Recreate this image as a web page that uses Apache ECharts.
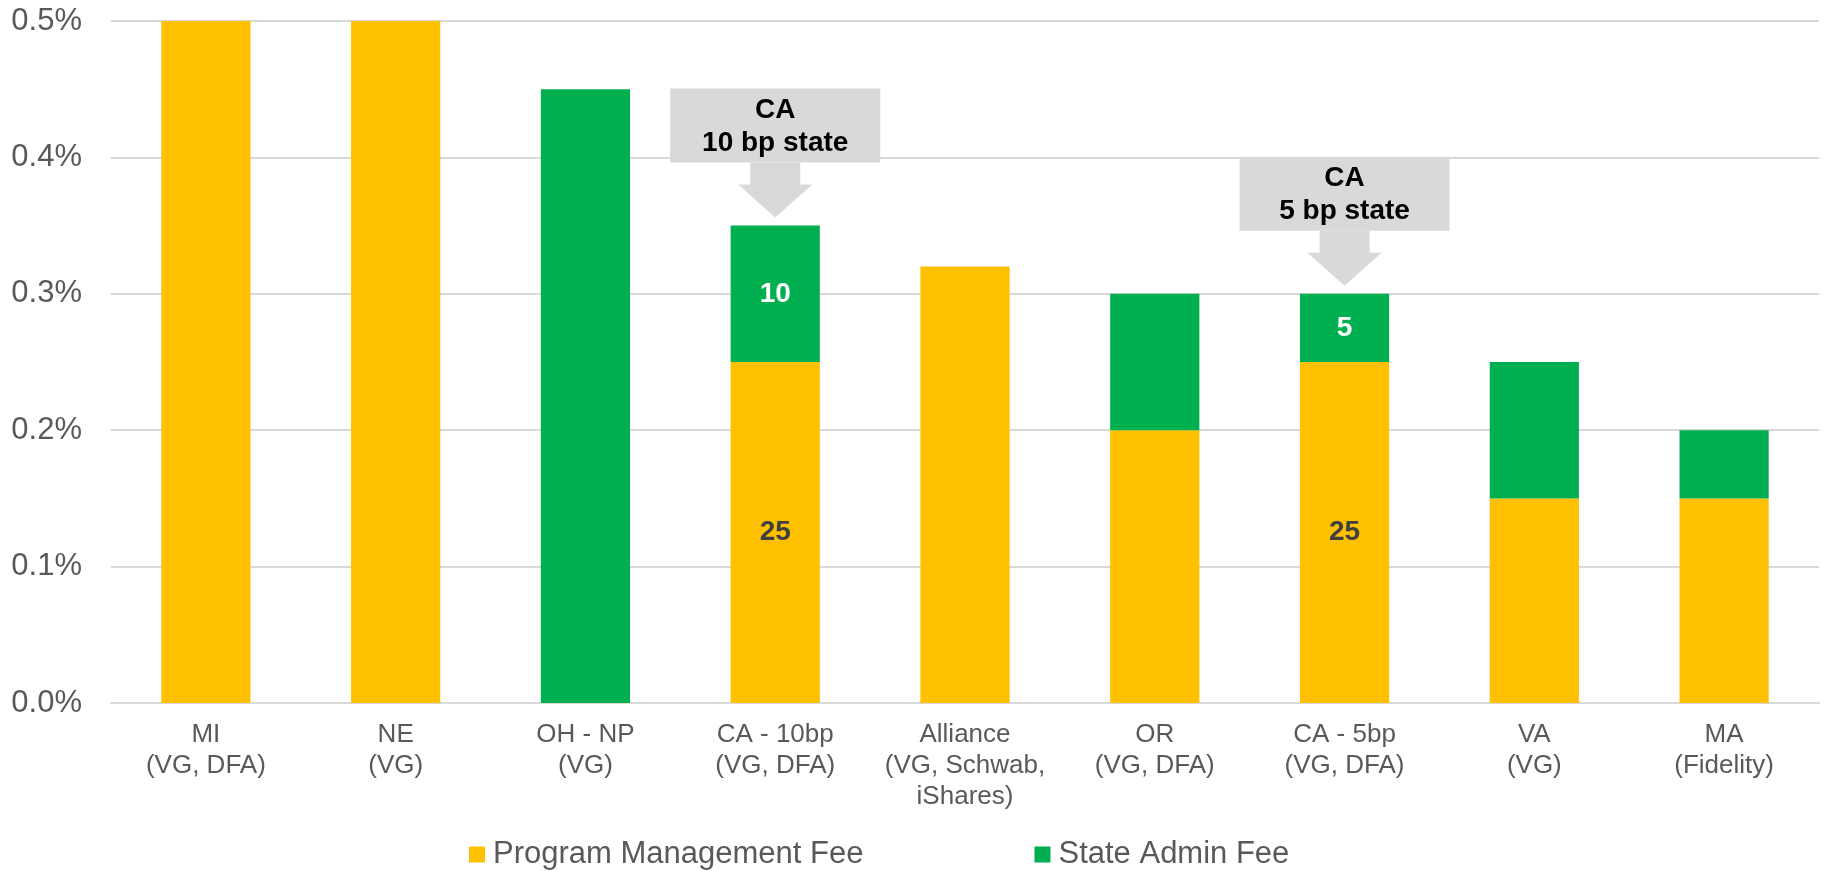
<!DOCTYPE html>
<html>
<head>
<meta charset="utf-8">
<script src="https://cdn.jsdelivr.net/npm/echarts@6/dist/echarts.min.js"></script>
<style>
  html, body { margin: 0; padding: 0; background: #fff; }
  #main { width: 1827px; height: 871px; }
</style>
</head>
<body>
<div id="main"></div>
<script>
// 数据
const categories = [
  'MI\n(VG, DFA)', 'NE\n(VG)', 'OH - NP\n(VG)', 'CA - 10bp\n(VG, DFA)',
  'Alliance\n(VG, Schwab,\niShares)', 'OR\n(VG, DFA)', 'CA - 5bp\n(VG, DFA)',
  'VA\n(VG)', 'MA\n(Fidelity)'
];
const programFee = [0.50, 0.50, 0, 0.25, 0.32, 0.20, 0.25, 0.15, 0.15];
const stateFee   = [0, 0, 0.45, 0.10, 0, 0.10, 0.05, 0.10, 0.05];
// 柱内标签 (bp)
const programLabels = ['', '', '', '25', '', '', '25', '', ''];
const stateLabels   = ['', '', '', '10', '', '', '5', '', ''];
// 标注框
const callouts = [
  { index: 3, text: 'CA\n10 bp state' },
  { index: 6, text: 'CA\n5 bp state' }
];

const font = "'Liberation Sans', Arial, sans-serif";
const myChart = echarts.init(document.getElementById('main'));

const option = {
  animation: false,
  backgroundColor: '#fff',
  grid: { left: 111, right: 8, top: 21, bottom: 168 },
  legend: {
    left: 464,
    top: 834,
    itemWidth: 16,
    itemHeight: 16,
    itemGap: 171,
    icon: 'rect',
    textStyle: { fontFamily: font, fontSize: 31, color: '#595959', padding: [0, 0, 0, 3] },
    data: ['Program Management Fee', 'State Admin Fee']
  },
  xAxis: {
    type: 'category',
    data: categories,
    axisTick: { show: false },
    axisLine: { lineStyle: { color: '#D9D9D9', width: 2 } },
    axisLabel: {
      interval: 0,
      margin: 16,
      fontFamily: font,
      fontSize: 26,
      lineHeight: 31,
      color: '#595959'
    }
  },
  yAxis: {
    type: 'value',
    min: 0,
    max: 0.5,
    interval: 0.1,
    axisLine: { show: false },
    axisTick: { show: false },
    splitLine: { lineStyle: { color: '#D9D9D9', width: 2 } },
    axisLabel: {
      margin: 29,
      fontFamily: font,
      fontSize: 31,
      color: '#595959',
      formatter: v => v.toFixed(1) + '%'
    }
  },
  series: [
    {
      name: 'Program Management Fee',
      type: 'bar',
      stack: 'fee',
      barCategoryGap: '53%',
      data: programFee,
      itemStyle: { color: '#FFC000' },
      label: {
        show: true,
        position: 'inside',
        fontFamily: font,
        fontSize: 28,
        fontWeight: 'bold',
        color: '#404040',
        formatter: p => programLabels[p.dataIndex]
      }
    },
    {
      name: 'State Admin Fee',
      type: 'bar',
      stack: 'fee',
      data: stateFee,
      itemStyle: { color: '#00B050' },
      label: {
        show: true,
        position: 'inside',
        fontFamily: font,
        fontSize: 28,
        fontWeight: 'bold',
        color: '#fff',
        formatter: p => stateLabels[p.dataIndex]
      }
    }
  ]
};

myChart.setOption(option);

// 标注框：根据柱顶位置换算像素
const graphics = callouts.map(c => {
  const total = programFee[c.index] + stateFee[c.index];
  const pt = myChart.convertToPixel({ gridIndex: 0 }, [c.index, total]);
  const cx = pt[0];
  const tip = pt[1] - 8;
  const boxW = 210, boxH = 74;
  const boxBottom = tip - 55;
  const headTop = tip - 33;
  const shaft = 25, head = 37;
  return {
    type: 'group',
    z: 100,
    children: [
      {
        type: 'rect',
        shape: { x: cx - boxW / 2, y: boxBottom - boxH, width: boxW, height: boxH },
        style: { fill: '#D9D9D9' }
      },
      {
        type: 'polygon',
        shape: {
          points: [
            [cx - shaft, boxBottom], [cx + shaft, boxBottom], [cx + shaft, headTop],
            [cx + head, headTop], [cx, tip], [cx - head, headTop], [cx - shaft, headTop]
          ]
        },
        style: { fill: '#D9D9D9' }
      },
      {
        type: 'text',
        x: cx,
        y: boxBottom - boxH / 2 + 1,
        style: {
          text: c.text,
          fontFamily: font,
          fontSize: 28,
          fontWeight: 'bold',
          lineHeight: 33,
          fill: '#000',
          align: 'center',
          verticalAlign: 'middle'
        }
      }
    ]
  };
});

myChart.setOption({ graphic: graphics });
</script>
</body>
</html>
